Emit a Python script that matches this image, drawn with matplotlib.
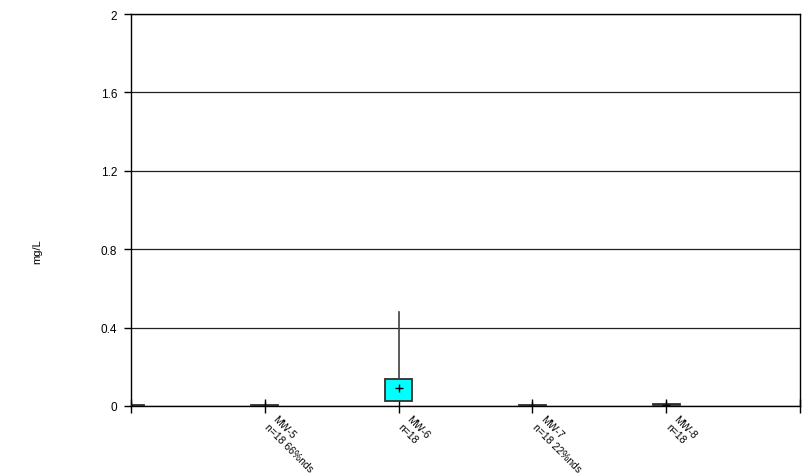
import matplotlib
matplotlib.use("Agg")
import matplotlib.pyplot as plt
from matplotlib import font_manager as fm
from matplotlib.transforms import ScaledTranslation

# pick the regular Liberation Sans file (not Narrow)
fname = None
for f in fm.fontManager.ttflist:
    if f.name == 'Liberation Sans' and 'Narrow' not in f.fname and f.style == 'normal' and f.weight in (400, 'normal', 'regular'):
        fname = f.fname
        break
if fname:
    fm.fontManager.addfont(fname)
    fam = fm.FontProperties(fname=fname).get_name()
    plt.rcParams['font.family'] = [fam, 'DejaVu Sans']
else:
    plt.rcParams['font.family'] = ['DejaVu Sans']

# Data
labels = ["", "MW-5\nn=18 66%nds", "MW-6\nn=18", "MW-7\nn=18 22%nds", "MW-8\nn=18"]
positions = [0, 1, 2, 3, 4]
q1 = [0.0, 0.0005, 0.027, 0.002, 0.003]
med = [0.001, 0.001, 0.027, 0.002, 0.004]
q3 = [0.004, 0.004, 0.138, 0.003, 0.011]
whislo = [0.0, 0.0005, 0.027, 0.002, 0.003]
whishi = [0.004, 0.004, 0.478, 0.003, 0.011]
means = [0.002, 0.002, 0.092, 0.0025, 0.006]
yticks = [0, 0.4, 0.8, 1.2, 1.6, 2]
yticklabels = ["0", "0.4", "0.8", "1.2", "1.6", "2"]

fig = plt.figure(figsize=(8.1, 4.77), dpi=100)
ax = fig.add_axes([131/810, 70/477, 669/810, 392/477])

stats = []
for i in range(len(positions)):
    stats.append(dict(label=labels[i], q1=q1[i], med=med[i], q3=q3[i],
                      whislo=whislo[i], whishi=whishi[i], mean=means[i]))

ax.bxp(stats, positions=positions, widths=0.2, patch_artist=True,
       showmeans=True, showcaps=False, showfliers=False,
       boxprops=dict(facecolor='#00FFFF', edgecolor='#303030', linewidth=1.3),
       whiskerprops=dict(color='#404040', linewidth=1.2),
       medianprops=dict(linewidth=0),
       meanprops=dict(marker='+', markeredgecolor='black', markersize=6, markeredgewidth=1.0),
       zorder=3)

ax.set_xlim(0, 5)
ax.set_ylim(0, 2)
ax.set_yticks(yticks)
ax.set_yticklabels(yticklabels, fontsize=8.5)
ax.yaxis.grid(True, color='#202020', linewidth=0.9)
ax.set_axisbelow(True)

ax.set_xticks([0, 1, 2, 3, 4, 5])
ax.set_xticklabels([])
ax.tick_params(axis='x', direction='inout', length=10, width=1)
ax.tick_params(axis='y', direction='out', length=5, width=1, pad=5)

off = ScaledTranslation(13/100, -7/100, fig.dpi_scale_trans)
for p, lab in zip(positions, labels):
    if lab:
        ax.text(p, 0, lab, transform=ax.get_xaxis_transform() + off,
                fontsize=7.5, rotation=-45, ha='left', va='top',
                rotation_mode='anchor', clip_on=False)

for s in ax.spines.values():
    s.set_linewidth(1)
    s.set_color('black')

fig.text(37/810, 1 - 252/477, "mg/L", fontsize=8, rotation=90, ha='center', va='center')

fig.savefig("out.png", dpi=100)
